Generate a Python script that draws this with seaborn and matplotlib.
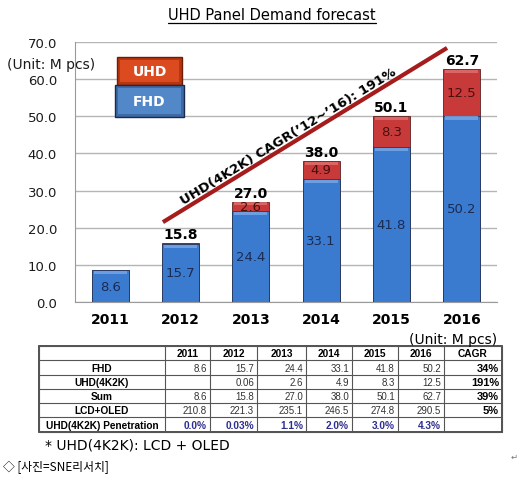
import numpy as np
import matplotlib.pyplot as plt
import seaborn as sns
from matplotlib.patches import Rectangle

# ---------------- data ----------------
years = ['2011', '2012', '2013', '2014', '2015', '2016']
fhd = [8.6, 15.7, 24.4, 33.1, 41.8, 50.2]
uhd = [np.nan, 0.06, 2.6, 4.9, 8.3, 12.5]
total = [8.6, 15.8, 27.0, 38.0, 50.1, 62.7]
lcd_oled = [210.8, 221.3, 235.1, 246.5, 274.8, 290.5]
penetration = ['0.0%', '0.03%', '1.1%', '2.0%', '3.0%', '4.3%']
cagr = ['34%', '191%', '39%', '5%', '']
row_labels = ['FHD', 'UHD(4K2K)', 'Sum', 'LCD+OLED', 'UHD(4K2K) Penetration']
uhd_cagr_text = 'UHD(4K2K) CAGR(\u201912~\u201916): 191%'

blue = '#3b7bcf'
red = '#c83a3a'
W, H = 524, 481

sns.set_style('white')
plt.rcParams['font.family'] = ['DejaVu Sans']
plt.rcParams['text.color'] = 'black'
plt.rcParams['xtick.color'] = 'black'
plt.rcParams['ytick.color'] = 'black'

fig = plt.figure(figsize=(W / 100, H / 100), dpi=100)
ax = fig.add_axes([75 / W, 1 - 303 / H, 422 / W, 260 / H])

# stacked bars: total (red) behind, FHD (blue) in front
sns.barplot(x=years, y=total, color=red, saturation=1, width=0.53,
            errorbar=None, edgecolor='#5a2020', linewidth=0.6, ax=ax)
n_red = len(ax.patches)
sns.barplot(x=years, y=fhd, color=blue, saturation=1, width=0.53,
            errorbar=None, edgecolor='#23395e', linewidth=0.6, ax=ax)

# light bevel at the top of every visible segment
for k, p in enumerate(list(ax.patches)):
    x, w, h = p.get_x(), p.get_width(), p.get_height()
    if k < n_red:
        seg = h - fhd[k]
        light = '#e07070'
    else:
        seg = h
        light = '#79a8e6'
    if seg < 0.5:
        continue
    band = min(1.1, seg * 0.3)
    ax.add_patch(Rectangle((x + w * 0.06, h - band), w * 0.88, band * 0.8,
                           fc=light, ec='none', alpha=0.8,
                           zorder=p.get_zorder() + 0.1))

ax.set_xlim(-0.5, 5.5)
ax.set_ylim(0, 70)
ax.set_yticks(np.arange(0, 71, 10))
ax.set_yticklabels(['%.1f' % v for v in np.arange(0, 71, 10)], fontsize=9.5,
                   color='#1a1a1a')
ax.set_xticks(range(len(years)))
ax.set_xticklabels(years, fontsize=10, fontweight='bold')
ax.tick_params(axis='y', length=0, pad=13)
ax.tick_params(axis='x', length=0, pad=7)
ax.set_xlabel('')
ax.set_ylabel('')
ax.grid(axis='y', color='#b5b5b5', lw=1)
ax.set_axisbelow(True)
for s in ['top', 'right']:
    ax.spines[s].set_visible(False)
for s in ['left', 'bottom']:
    ax.spines[s].set_color('#9a9a9a')

# value labels
for i in range(len(years)):
    ax.text(i, fhd[i] / 2, '%.1f' % fhd[i], ha='center', va='center',
            fontsize=9.5, color='#1b2b52', zorder=4)
    if not np.isnan(uhd[i]) and uhd[i] > 1:
        ax.text(i, fhd[i] + uhd[i] / 2, '%.1f' % uhd[i], ha='center',
                va='center', fontsize=9.5, color='#4a0e0e', zorder=4)
    if i > 0:
        ax.annotate('%.1f' % total[i], (i, total[i]), xytext=(0, 1.5),
                    textcoords='offset points', ha='center', va='bottom',
                    fontsize=10, fontweight='bold', zorder=4)

# CAGR trend line drawn above the 2012 and 2016 totals
x0, x1 = 1 - 0.25, 5 - 0.21
ax.plot([x0, x1], [total[1] + 5.7, total[5] + 5.7], color='#a51c1c', lw=3,
        solid_capstyle='butt', clip_on=False, zorder=5)
ax.text(2.53, 44.7, uhd_cagr_text, rotation=31.5, rotation_mode='anchor',
        ha='center', va='center', fontsize=9.5, fontweight='bold', zorder=6)

# ---------------- overlay in pixel coordinates ----------------
ov = fig.add_axes([0, 0, 1, 1], zorder=10)
ov.set_xlim(0, W)
ov.set_ylim(H, 0)
ov.axis('off')

title = ov.text(272, 15, 'UHD Panel Demand forecast', ha='center',
                va='center', fontsize=10.5)
ov.text(7, 65, '(Unit: M pcs)', ha='left', va='center', fontsize=10,
        color='#1a1a1a')

# legend boxes
def legend_box(x, y, w, h, outer, inner, edge, label):
    ov.add_patch(Rectangle((x, y), w, h, fc=outer, ec=edge, lw=1))
    ov.add_patch(Rectangle((x + 3, y + 3), w - 6, h - 6, fc=inner, ec='none'))
    ov.text(x + w / 2, y + h / 2, label, ha='center', va='center',
            fontsize=10, fontweight='bold', color='white')

legend_box(117, 58, 65, 28, '#b8350f', '#dc4a1f', '#6a2008', 'UHD')
legend_box(115, 86, 69, 32, '#3d6aa6', '#5288c8', '#1a2a48', 'FHD')

# table
col_edges = [39, 165, 210, 257, 306, 352, 398, 444, 502]
row_edges = [347, 361, 376, 390, 404, 418, 433]
lab_font = ['Liberation Sans', 'DejaVu Sans']
val_font = ['Liberation Sans Narrow', 'Liberation Sans', 'DejaVu Sans']

for y in row_edges:
    ov.plot([col_edges[0], col_edges[-1]], [y, y], color='#555555', lw=0.8)
for x in col_edges:
    ov.plot([x, x], [row_edges[0], row_edges[-1]], color='#555555', lw=0.8)
ov.add_patch(Rectangle((col_edges[0], row_edges[0]),
                       col_edges[-1] - col_edges[0],
                       row_edges[-1] - row_edges[0], fill=False,
                       ec='#444444', lw=1.3))

def cy(r):
    return (row_edges[r] + row_edges[r + 1]) / 2 + 0.5

headers = years + ['CAGR']
for j, h in enumerate(headers):
    xc = (col_edges[j + 1] + col_edges[j + 2]) / 2
    ov.text(xc, cy(0), h, ha='center', va='center', fontsize=7.3,
            fontweight='bold', family=lab_font)

rows = [
    ['%.1f' % v for v in fhd],
    ['' if np.isnan(v) else '%g' % v for v in uhd],
    ['%.1f' % v for v in total],
    ['%.1f' % v for v in lcd_oled],
    penetration,
]
for r, lab in enumerate(row_labels):
    ov.text((col_edges[0] + col_edges[1]) / 2, cy(r + 1), lab, ha='center',
            va='center', fontsize=7.3, fontweight='bold', family=lab_font)
    for j, txt in enumerate(rows[r]):
        xr = col_edges[j + 2] - 3
        if r == 4:
            ov.text(xr, cy(r + 1), txt, ha='right', va='center', fontsize=7.3,
                    fontweight='bold', color='#2e2e90', family=lab_font)
        else:
            ov.text(xr, cy(r + 1), txt, ha='right', va='center', fontsize=7,
                    color='#333333', family=val_font)
    ov.text(col_edges[-1] - 3, cy(r + 1), cagr[r], ha='right', va='center',
            fontsize=8, fontweight='bold', family=lab_font)

ov.text(497, 340, '(Unit: M pcs)', ha='right', va='center', fontsize=10)
ov.text(45, 446, '* UHD(4K2K): LCD + OLED', ha='left', va='center',
        fontsize=10)
ov.text(3, 467, '\u25c7 [사진=SNE리서치]', ha='left', va='center', fontsize=8.5,
        family=['Noto Sans CJK KR', 'DejaVu Sans'])
ov.text(514, 457, '\u21b5', ha='center', va='center', fontsize=6,
        color='#777777', family=['DejaVu Sans'])

# underline the title from its rendered extent
fig.canvas.draw()
bb = title.get_window_extent()
inv = ov.transData.inverted()
(tx0, ty0), (tx1, ty1) = inv.transform([[bb.x0, bb.y0], [bb.x1, bb.y1]])
ov.plot([tx0, tx1], [ty0 + 1, ty0 + 1], color='black', lw=0.9)

fig.savefig('out.png', dpi=100)
